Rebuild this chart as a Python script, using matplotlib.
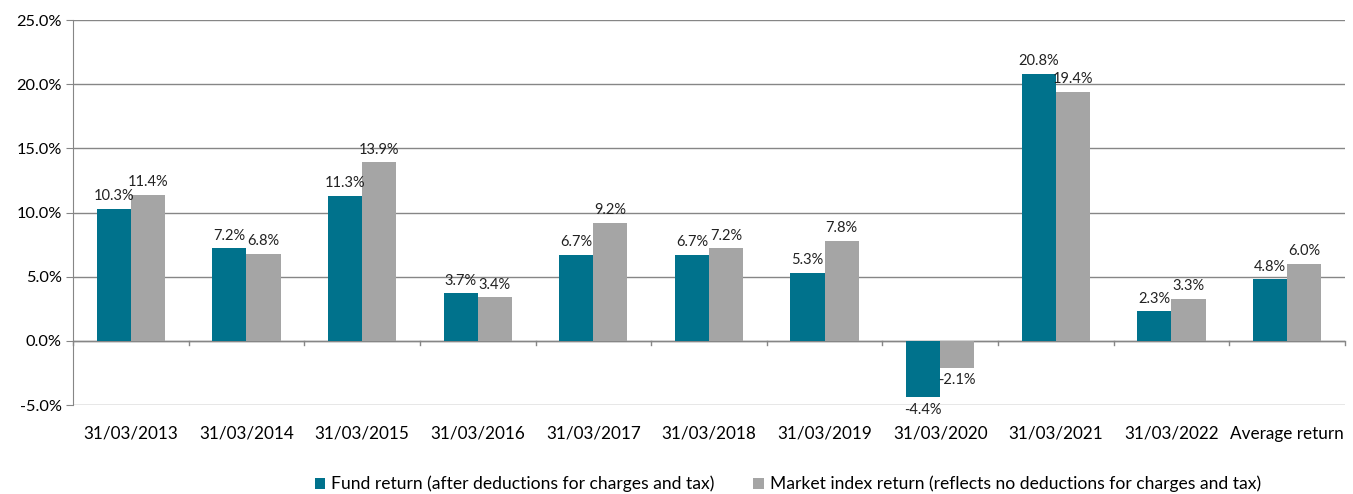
import numpy as np
import matplotlib.pyplot as plt
from matplotlib.ticker import FuncFormatter

plt.rcParams['font.family'] = ['Lato', 'DejaVu Sans']

categories = ['31/03/2013', '31/03/2014', '31/03/2015', '31/03/2016', '31/03/2017',
              '31/03/2018', '31/03/2019', '31/03/2020', '31/03/2021', '31/03/2022',
              'Average return']
fund = [10.3, 7.2, 11.3, 3.7, 6.7, 6.7, 5.3, -4.4, 20.8, 2.3, 4.8]
index = [11.4, 6.8, 13.9, 3.4, 9.2, 7.2, 7.8, -2.1, 19.4, 3.3, 6.0]

fund_label = 'Fund return (after deductions for charges and tax)'
index_label = 'Market index return (reflects no deductions for charges and tax)'

teal = '#00728C'
grey = '#A5A5A5'

fig = plt.figure(figsize=(13.53, 4.94), dpi=100)
ax = fig.add_axes([0.054, 0.18, 0.94, 0.7795])

x = np.arange(len(categories))
w = 0.295
b1 = ax.bar(x - w / 2, fund, w, color=teal, label=fund_label, zorder=3)
b2 = ax.bar(x + w / 2, index, w, color=grey, label=index_label, zorder=3)

for bars, vals in ((b1, fund), (b2, index)):
    for r, v in zip(bars, vals):
        cx = r.get_x() + r.get_width() / 2
        if v >= 0:
            ax.annotate(f'{v:.1f}%', (cx, v), xytext=(0, 4), textcoords='offset points',
                        ha='center', va='bottom', fontsize=10.5, color='#222222')
        else:
            ax.annotate(f'{v:.1f}%', (cx, v), xytext=(0, -4), textcoords='offset points',
                        ha='center', va='top', fontsize=10.5, color='#222222')

ax.set_ylim(-5, 25)
ax.set_yticks(np.arange(-5, 26, 5))
ax.yaxis.set_major_formatter(FuncFormatter(lambda v, p: f'{v:.1f}%'))
ax.set_xlim(-0.5, len(categories) - 0.5)
ax.set_xticks(x)
ax.set_xticklabels(categories)
ax.tick_params(axis='x', length=0, pad=15, labelsize=12.3)
ax.tick_params(axis='y', length=5, color='#868686', labelsize=11.8, pad=3)

ax.grid(axis='y', color='#868686', linewidth=1, zorder=0)
for s in ['top', 'right', 'bottom']:
    ax.spines[s].set_visible(False)
ax.spines['left'].set_color('#868686')

# category axis at zero with tick marks between groups
ax.axhline(0, color='#868686', linewidth=1, zorder=2)
for xb in np.arange(-0.5, len(categories), 1.0):
    ax.plot([xb, xb], [0, -0.3], color='#868686', linewidth=1, zorder=2, clip_on=False)

ax.legend(loc='center', bbox_to_anchor=(0.562, -0.205), ncol=2, frameon=False,
          fontsize=12.6, handlelength=0.6, handleheight=0.6, handletextpad=0.35,
          columnspacing=2.2, borderpad=0.1)

fig.savefig('out.png', dpi=100)
